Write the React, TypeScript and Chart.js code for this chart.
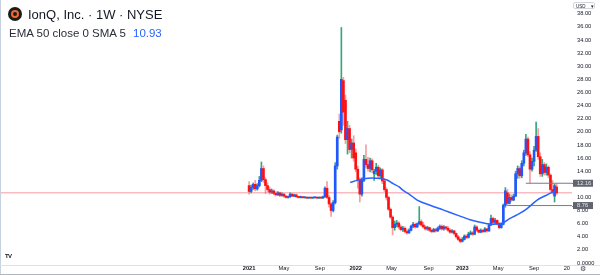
import React, { useEffect, useRef } from 'react';
import { Chart, registerables } from 'chart.js';

Chart.register(...registerables);

// Weekly candles, week 0 = first week of Jan 2021
const opens = [
  11.8, 10.9, 11.5, 12.0, 11.3, 11.8, 12.6, 14.4, 12.7, 11.8,
  11.2, 10.8, 11.0, 10.6, 10.4, 10.7, 10.3, 10.5, 10.2, 10.0,
  10.1, 10.5, 10.2, 10.4, 10.1, 10.0, 10.1, 9.95, 10.0, 9.9,
  9.95, 9.9, 9.95, 10.0, 9.9, 10.0, 9.9, 10.1, 11.4, 10.0,
  9.0, 8.0, 9.2, 14.8, 21.6, 20.3, 27.8, 24.8, 18.8, 20.5,
  17.3, 18.3, 16.8, 14.3, 12.7, 10.5, 12.6, 15.8, 15.0, 14.4,
  15.6, 13.6, 14.0, 14.6, 13.3, 14.2, 12.5, 11.2, 10.0, 8.2,
  7.0, 5.4, 5.9, 6.1, 5.5, 5.1, 5.3, 4.8, 4.6, 5.0,
  5.6, 5.9, 5.5, 6.0, 6.3, 5.8, 5.5, 5.2, 5.4, 5.0,
  4.8, 5.1, 4.9, 5.3, 5.6, 5.2, 5.5, 5.3, 5.0, 4.7,
  4.9, 4.5, 4.0, 3.6, 3.3, 3.6, 4.1, 3.9, 4.4, 4.6,
  4.4, 5.5, 5.0, 4.7, 5.0, 4.8, 5.2, 4.9, 5.8, 6.8,
  6.2, 6.5, 6.0, 5.4, 5.9, 8.8, 10.7, 9.1, 10.0, 9.6,
  10.2, 13.6, 14.4, 13.3, 15.2, 16.8, 18.9, 16.5, 14.3, 15.5,
  17.2, 19.3, 16.2, 13.6, 15.0, 13.8, 14.6, 13.4, 11.2, 10.2,
  11.6,
];
const highs = [
  12.4, 11.9, 12.2, 12.6, 12.1, 13.2, 15.4, 14.8, 13.0, 12.2,
  11.6, 11.3, 11.2, 10.9, 10.9, 10.8, 10.7, 10.6, 10.3, 10.2,
  10.7, 10.6, 10.5, 10.5, 10.2, 10.2, 10.15, 10.1, 10.05, 10.0,
  10.0, 10.0, 10.05, 10.05, 10.05, 10.05, 10.2, 11.6, 12.4, 10.3,
  9.2, 9.5, 15.3, 19.5, 22.7, 35.9, 28.3, 25.6, 21.6, 21.0,
  18.9, 19.4, 17.4, 14.8, 13.0, 13.0, 16.4, 18.0, 16.1, 16.0,
  15.9, 14.3, 15.2, 14.9, 14.5, 14.4, 12.9, 11.5, 10.2, 8.4,
  7.2, 6.4, 6.5, 6.3, 5.8, 5.6, 5.5, 5.1, 5.2, 5.8,
  6.2, 6.1, 6.1, 8.6, 6.6, 6.2, 5.7, 5.6, 5.5, 5.2,
  5.3, 5.3, 5.5, 5.8, 5.8, 5.7, 5.6, 5.6, 5.2, 5.1,
  5.0, 4.6, 4.2, 3.8, 3.9, 4.3, 4.3, 4.7, 4.9, 4.8,
  5.8, 5.7, 5.2, 5.2, 5.1, 5.4, 5.3, 6.0, 7.3, 7.0,
  6.8, 6.6, 6.2, 6.1, 9.0, 11.5, 11.2, 10.5, 10.4, 10.5,
  14.0, 14.8, 14.7, 15.6, 17.2, 19.6, 19.2, 17.0, 16.0, 17.8,
  21.5, 20.5, 16.8, 15.8, 15.3, 15.1, 14.8, 13.6, 12.6, 12.0,
  12.1,
];
const lows = [
  10.5, 10.7, 11.2, 11.0, 11.1, 11.6, 12.4, 12.3, 10.6, 10.9,
  10.5, 10.6, 10.4, 10.2, 10.3, 10.1, 10.2, 10.0, 9.9, 9.9,
  10.0, 10.1, 10.1, 10.0, 9.9, 9.9, 9.9, 9.9, 9.85, 9.85,
  9.85, 9.85, 9.9, 9.85, 9.85, 9.85, 9.85, 10.0, 9.8, 8.5,
  7.1, 7.8, 9.0, 14.3, 19.0, 19.8, 21.0, 18.2, 16.6, 16.8,
  16.0, 15.5, 13.9, 11.4, 9.3, 10.2, 12.4, 14.6, 14.0, 13.9,
  13.8, 12.6, 13.5, 13.0, 12.9, 12.1, 10.9, 9.6, 8.0, 6.8,
  4.3, 5.0, 5.5, 5.2, 4.9, 4.8, 4.6, 4.4, 4.5, 4.9,
  5.4, 5.3, 5.4, 5.8, 5.6, 5.3, 5.0, 5.0, 4.8, 4.6,
  4.7, 4.7, 4.8, 5.1, 5.0, 5.0, 5.1, 4.8, 4.5, 4.6,
  4.3, 3.8, 3.4, 3.1, 3.2, 3.5, 3.7, 3.8, 4.3, 4.2,
  4.3, 4.8, 4.6, 4.6, 4.6, 4.7, 4.7, 4.8, 5.7, 6.0,
  6.0, 5.8, 5.2, 5.3, 5.8, 8.5, 8.76, 9.0, 9.4, 9.5,
  10.1, 12.9, 12.9, 13.0, 14.8, 16.4, 16.2, 12.2, 14.0, 14.8,
  17.0, 15.8, 13.2, 13.2, 13.4, 13.4, 13.0, 10.9, 10.5, 9.3,
  10.4,
];
const closes = [
  10.9, 11.5, 12.0, 11.3, 11.8, 12.6, 14.4, 12.7, 11.8, 11.2,
  10.8, 11.0, 10.6, 10.4, 10.7, 10.3, 10.5, 10.2, 10.0, 10.1,
  10.5, 10.2, 10.4, 10.1, 10.0, 10.1, 9.95, 10.0, 9.9, 9.95,
  9.9, 9.95, 10.0, 9.9, 10.0, 9.9, 10.1, 11.4, 10.0, 9.0,
  8.0, 9.2, 14.8, 19.2, 20.0, 28.0, 23.0, 18.8, 20.5, 17.3,
  18.3, 16.0, 14.3, 12.7, 10.5, 12.6, 15.8, 15.0, 14.4, 15.6,
  14.2, 14.0, 14.6, 13.3, 14.2, 12.5, 11.2, 10.0, 8.2, 7.0,
  5.4, 5.9, 6.1, 5.5, 5.1, 5.3, 4.8, 4.6, 5.0, 5.6,
  5.9, 5.5, 6.0, 6.3, 5.8, 5.5, 5.2, 5.4, 5.0, 4.8,
  5.1, 4.9, 5.3, 5.6, 5.2, 5.5, 5.3, 5.0, 4.7, 4.9,
  4.5, 4.0, 3.6, 3.3, 3.6, 4.1, 3.9, 4.4, 4.6, 4.4,
  5.5, 5.0, 4.7, 5.0, 4.8, 5.2, 4.9, 5.8, 6.8, 6.2,
  6.5, 6.0, 5.4, 5.9, 8.8, 11.0, 9.1, 10.0, 9.6, 10.2,
  13.6, 14.4, 13.3, 15.2, 16.8, 18.9, 16.5, 14.3, 15.5, 17.2,
  19.3, 16.2, 13.6, 15.0, 13.8, 14.6, 13.4, 11.2, 10.8, 11.8,
  10.7,
];

// EMA 50 (week, value)
const emaWeeks = [49.3, 52.7, 56, 60, 64, 67.3, 70.2, 73.2, 75, 78.5, 82, 88.3, 94.6, 101.5, 107.8, 112.7, 116, 119, 123.4, 127.3, 132.2, 135.6, 140.5, 145.4, 148.3, 150];
const emaValues = [12.3, 12.6, 12.85, 12.95, 12.9, 12.65, 12.1, 11.6, 11.1, 10.4, 9.6, 8.8, 8.1, 7.3, 6.6, 6.2, 6.0, 5.9, 6.05, 6.8, 7.6, 8.3, 9.6, 10.4, 10.85, 10.93];

// Horizontal levels drawn on the chart
const levelValues = [12.16, 8.76];
const levelStartWeeks = [135, 126];

// Axis ticks
const xTickWeeks = [0, 17, 34.5, 52, 69.5, 87.5, 104, 121.5, 139, 155];
const xTickLabels = ['2021', 'May', 'Sep', '2022', 'May', 'Sep', '2023', 'May', 'Sep', '20'];
const yTickValues = [0, 2, 4, 6, 8, 10, 12, 14, 16, 18, 20, 22, 24, 26, 28, 30, 32, 34, 36, 38];

const X_MIN = -121.5;
const X_MAX = 157.5;
const Y_MIN = -0.3;
const Y_MAX = 40.09;

const FONT = '"Liberation Sans", Arial, sans-serif';
const UP_BODY = '#2157ff';
const UP_WICK = '#3aa57a';
const DOWN_BODY = '#ff1010';
const DOWN_WICK = 'rgba(242, 90, 100, 0.6)';

const framePlugin = {
  id: 'frame',
  afterDraw(chart: any) {
    const { ctx, chartArea, scales } = chart;
    const ys = scales.y;
    ctx.save();
    ctx.lineWidth = 1;
    ctx.strokeStyle = '#c8d1e0';
    ctx.beginPath();
    ctx.moveTo(0.5, 0);
    ctx.lineTo(0.5, 275);
    ctx.stroke();
    ctx.strokeStyle = '#dde1ea';
    ctx.beginPath();
    ctx.moveTo(0, chartArea.bottom + 0.5);
    ctx.lineTo(600, chartArea.bottom + 0.5);
    ctx.stroke();
    ctx.strokeStyle = '#b2b5be';
    ctx.beginPath();
    ctx.moveTo(0, 274.5);
    ctx.lineTo(600, 274.5);
    ctx.stroke();
    levelValues.forEach((v) => {
      const py = ys.getPixelForValue(v);
      ctx.strokeStyle = '#787b86';
      ctx.beginPath();
      ctx.moveTo(chartArea.right, Math.round(py) + 0.5);
      ctx.lineTo(chartArea.right + 2, Math.round(py) + 0.5);
      ctx.stroke();
      ctx.fillStyle = '#62656f';
      ctx.fillRect(chartArea.right + 1, py - 3.5, 20, 7);
      ctx.fillStyle = '#e3e5ea';
      ctx.font = `5.7px ${FONT}`;
      ctx.textBaseline = 'middle';
      ctx.textAlign = 'left';
      ctx.fillText(v.toFixed(2), chartArea.right + 5, py + 0.3);
    });
    ctx.restore();
  },
};

export default function App() {
  const canvasRef = useRef<HTMLCanvasElement | null>(null);

  useEffect(() => {
    if (!canvasRef.current) return;
    const weeks = closes.map((_, i) => i);
    const isUp = closes.map((c, i) => c >= opens[i]);
    const lastClose = closes[closes.length - 1];

    const chart = new Chart(canvasRef.current, {
      type: 'bar',
      data: {
        datasets: [
          {
            type: 'line',
            data: [
              { x: X_MIN, y: lastClose },
              { x: X_MAX, y: lastClose },
            ],
            borderColor: 'rgba(242, 54, 69, 0.5)',
            borderWidth: 1,
            pointRadius: 0,
            order: 10,
          } as any,
          {
            type: 'bar',
            data: weeks.map((w, i) => ({ x: w, y: [lows[i], highs[i]] })),
            backgroundColor: isUp.map((u) => (u ? UP_WICK : DOWN_WICK)),
            barThickness: 1,
            grouped: false,
            minBarLength: 1,
            order: 8,
          } as any,
          {
            type: 'bar',
            data: weeks.map((w, i) => ({ x: w, y: [opens[i], closes[i]] })),
            backgroundColor: isUp.map((u) => (u ? UP_BODY : DOWN_BODY)),
            barThickness: 2,
            grouped: false,
            minBarLength: 1,
            order: 6,
          } as any,
          ...levelValues.map((v, i) => ({
            type: 'line',
            data: [
              { x: levelStartWeeks[i], y: v },
              { x: X_MAX, y: v },
            ],
            borderColor: '#787b86',
            borderWidth: 1,
            pointRadius: 0,
            order: 4,
          })) as any[],
          {
            type: 'line',
            data: emaWeeks.map((w, i) => ({ x: w, y: emaValues[i] })),
            borderColor: '#2962ff',
            borderWidth: 1.5,
            pointRadius: 0,
            cubicInterpolationMode: 'monotone',
            order: 2,
          } as any,
        ],
      },
      options: {
        animation: false,
        responsive: false,
        maintainAspectRatio: false,
        layout: { padding: 0 },
        plugins: {
          legend: { display: false },
          tooltip: { enabled: false },
        },
        scales: {
          x: {
            type: 'linear',
            offset: false,
            min: X_MIN,
            max: X_MAX,
            position: 'bottom',
            grid: { display: false, offset: false, drawTicks: false, tickLength: 0 },
            border: { display: false },
            afterFit: (s: any) => {
              s.height = 10;
              s.paddingLeft = 0;
              s.paddingRight = 0;
            },
            afterBuildTicks: (s: any) => {
              s.ticks = xTickWeeks.map((v) => ({ value: v }));
            },
            ticks: {
              display: true,
              autoSkip: false,
              maxRotation: 0,
              minRotation: 0,
              padding: 0.3,
              color: '#131722',
              font: (ctx: any) => {
                const lbl = xTickLabels[ctx.index] || '';
                return { family: FONT, size: 5.7, weight: /^\d{4}$/.test(lbl) ? 'bold' : 'normal' };
              },
              callback: (_v: any, idx: number) => xTickLabels[idx],
            },
          },
          y: {
            type: 'linear',
            position: 'right',
            min: Y_MIN,
            max: Y_MAX,
            grid: { display: false, drawTicks: false, tickLength: 0 },
            border: { display: false },
            afterFit: (s: any) => {
              s.width = 28;
              s.paddingTop = 0;
              s.paddingBottom = 0;
            },
            afterBuildTicks: (s: any) => {
              s.ticks = yTickValues.map((v) => ({ value: v }));
            },
            ticks: {
              autoSkip: false,
              padding: 5,
              color: '#131722',
              font: { family: FONT, size: 5.7 },
              callback: (v: any) => (Number(v) === 0 ? '0.0000' : Number(v).toFixed(2)),
            },
          },
        },
      } as any,
      plugins: [framePlugin],
    });
    return () => chart.destroy();
  }, []);

  const emaLast = emaValues[emaValues.length - 1];

  return (
    <div
      style={{
        position: 'fixed',
        left: 0,
        top: 0,
        width: 600,
        height: 275,
        background: '#ffffff',
        overflow: 'hidden',
        fontFamily: FONT,
      }}
    >
      <canvas ref={canvasRef} width={600} height={275} style={{ position: 'absolute', left: 0, top: 0 }} />
      <div
        style={{
          position: 'absolute',
          left: 8,
          top: 7,
          width: 14,
          height: 14,
          borderRadius: '50%',
          background: '#1c1c1c',
        }}
      >
        <div
          style={{
            position: 'absolute',
            left: 3,
            top: 3,
            width: 4,
            height: 4,
            borderRadius: '50%',
            border: '2px solid #f26a2a',
          }}
        />
      </div>
      <div
        style={{
          position: 'absolute',
          left: 28,
          top: 7,
          fontSize: 13,
          color: '#131722',
          whiteSpace: 'nowrap',
        }}
      >
        IonQ, Inc. · 1W · NYSE
      </div>
      <div
        style={{
          position: 'absolute',
          left: 9,
          top: 27,
          fontSize: 11.5,
          color: '#2a2e39',
          whiteSpace: 'nowrap',
        }}
      >
        EMA 50 close 0 SMA 5
        <span style={{ color: '#2962ff', marginLeft: 7 }}>{emaLast.toFixed(2)}</span>
      </div>
      <div
        style={{
          position: 'absolute',
          left: 573,
          top: 2,
          width: 22,
          height: 7,
          border: '1px solid #d1d4dc',
          borderRadius: 2,
          fontSize: 4.5,
          lineHeight: '7px',
          color: '#131722',
          paddingLeft: 2,
          boxSizing: 'border-box',
          whiteSpace: 'nowrap',
        }}
      >
        USD <span style={{ marginLeft: 4 }}>▾</span>
      </div>
      <div
        style={{
          position: 'absolute',
          left: 5,
          top: 253,
          fontSize: 6,
          fontWeight: 900,
          letterSpacing: -0.6,
          color: '#131722',
          lineHeight: '7px',
        }}
      >
        TV
      </div>
      <div
        style={{
          position: 'absolute',
          left: 580,
          top: 265,
          fontSize: 7,
          lineHeight: '8px',
          color: '#434651',
          fontFamily: '"DejaVu Sans", sans-serif',
        }}
      >
        ⚙
      </div>
    </div>
  );
}
